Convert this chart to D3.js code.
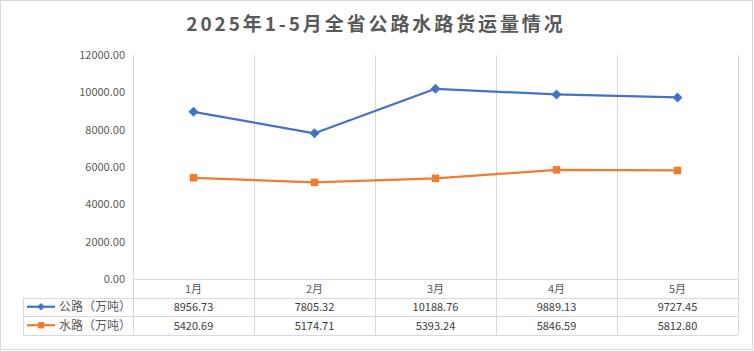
<!DOCTYPE html>
<html>
<head>
<meta charset="utf-8">
<script src="https://cdn.jsdelivr.net/npm/d3@7"></script>
<style>
  body { margin: 0; background: #fff; }
  svg text { font-family: "Noto Sans CJK SC", "Noto Sans", sans-serif; }
</style>
</head>
<body>
<div id="chart"></div>
<script>
// Data
const months = ["1月", "2月", "3月", "4月", "5月"]
const roadValues = [8956.73, 7805.32, 10188.76, 9889.13, 9727.45]
const waterValues = [5420.69, 5174.71, 5393.24, 5846.59, 5812.80]
const yTicks = [0, 2000, 4000, 6000, 8000, 10000, 12000]
const seriesNames = ["公路（万吨）", "水路（万吨）"]

const series = [
    { name: seriesNames[0], values: roadValues, color: "#4472C4", marker: "diamond" },
    { name: seriesNames[1], values: waterValues, color: "#ED7D31", marker: "square" },
]

const width = 754
const height = 351
const plot = { left: 133, right: 738, top: 55, bottom: 279 }
const rowH = 18.5
const tableLeft = 23
const gridColor = "#d9d9d9"
const textColor = "#595959"

const svg = d3.select("#chart")
    .append("svg")
        .attr("width", width)
        .attr("height", height)

// outer border
svg.append("rect")
    .attr("x", 0.5).attr("y", 0.5)
    .attr("width", width - 2).attr("height", height - 2)
    .attr("fill", "#fff")
    .attr("stroke", "#d9d9d9")

// Title
svg.append("text")
    .attr("x", 376)
    .attr("y", 31)
    .attr("text-anchor", "middle")
    .attr("fill", textColor)
    .attr("font-size", 19)
    .attr("font-weight", 700)
    .attr("letter-spacing", 2.9)
    .text("2025年1-5月全省公路水路货运量情况")

// Scales
const xScale = d3.scaleBand()
    .domain(months)
    .range([plot.left, plot.right])

const yScale = d3.scaleLinear()
    .domain([0, 12000])
    .range([plot.bottom, plot.top])

// Vertical gridlines at category boundaries
const bounds = months.map(m => xScale(m)).concat([plot.right])
svg.append("g")
    .selectAll("line")
    .data(bounds)
    .join("line")
        .attr("x1", d => Math.round(d) + 0.5)
        .attr("x2", d => Math.round(d) + 0.5)
        .attr("y1", plot.top)
        .attr("y2", plot.bottom + rowH * 3)
        .attr("stroke", gridColor)

// Y axis tick labels
svg.append("g")
    .selectAll("text")
    .data(yTicks)
    .join("text")
        .attr("x", 125)
        .attr("y", d => yScale(d) + 4)
        .attr("text-anchor", "end")
        .attr("fill", textColor)
        .attr("font-size", 11)
        .attr("font-family", "Liberation Sans, Arial, sans-serif")
        .text(d => d3.format(".2f")(d))

// Table horizontal lines
const tableRows = [0, 1, 2, 3]
svg.append("g")
    .selectAll("line")
    .data(tableRows)
    .join("line")
        .attr("x1", d => d === 0 ? plot.left : tableLeft)
        .attr("x2", plot.right)
        .attr("y1", d => Math.round(plot.bottom + d * rowH) + 0.5)
        .attr("y2", d => Math.round(plot.bottom + d * rowH) + 0.5)
        .attr("stroke", gridColor)

// left edge of legend column
svg.append("line")
    .attr("x1", tableLeft + 0.5).attr("x2", tableLeft + 0.5)
    .attr("y1", plot.bottom + rowH)
    .attr("y2", plot.bottom + rowH * 3)
    .attr("stroke", gridColor)

// Month header
svg.append("g")
    .selectAll("text")
    .data(months)
    .join("text")
        .attr("x", d => xScale(d) + xScale.bandwidth() / 2)
        .attr("y", plot.bottom + 14)
        .attr("text-anchor", "middle")
        .attr("fill", textColor)
        .attr("font-size", 11)
        .text(d => d)

const diamond = d3.symbol().type(d3.symbolDiamond2).size(64)
const square = d3.symbol().type(d3.symbolSquare2).size(72)

// Lines & markers
const lineGenerator = d3.line()
    .x((d, i) => xScale(months[i]) + xScale.bandwidth() / 2)
    .y(d => yScale(d))

series.forEach((s, si) => {
    const g = svg.append("g")
    g.append("path")
        .attr("d", lineGenerator(s.values))
        .attr("fill", "none")
        .attr("stroke", s.color)
        .attr("stroke-width", 2.25)
        .attr("stroke-linejoin", "round")

    g.selectAll(".marker")
        .data(s.values)
        .join("path")
            .attr("class", "marker")
            .attr("transform", (d, i) => `translate(${xScale(months[i]) + xScale.bandwidth() / 2},${yScale(d)})`)
            .attr("d", s.marker === "diamond" ? diamond : square)
            .attr("fill", s.color)

    // table row
    const rowY = plot.bottom + rowH * (si + 1)
    g.selectAll(".val")
        .data(s.values)
        .join("text")
            .attr("class", "val")
            .attr("x", (d, i) => xScale(months[i]) + xScale.bandwidth() / 2)
            .attr("y", rowY + 13.5)
            .attr("text-anchor", "middle")
            .attr("fill", "#404040")
            .attr("font-size", 11)
            .attr("font-family", "Liberation Sans, Arial, sans-serif")
            .text(d => d3.format(".2f")(d))

    // legend key
    const ly = rowY + rowH / 2
    g.append("line")
        .attr("x1", 27).attr("x2", 55)
        .attr("y1", ly).attr("y2", ly)
        .attr("stroke", s.color)
        .attr("stroke-width", 2.25)
    g.append("path")
        .attr("transform", `translate(41,${ly})`)
        .attr("d", s.marker === "diamond" ? d3.symbol().type(d3.symbolDiamond2).size(36) : d3.symbol().type(d3.symbolSquare2).size(50))
        .attr("fill", s.color)
    g.append("text")
        .attr("x", 59)
        .attr("y", ly + 4.5)
        .attr("fill", textColor)
        .attr("font-size", 12)
        .text(s.name)
})
</script>
</body>
</html>
